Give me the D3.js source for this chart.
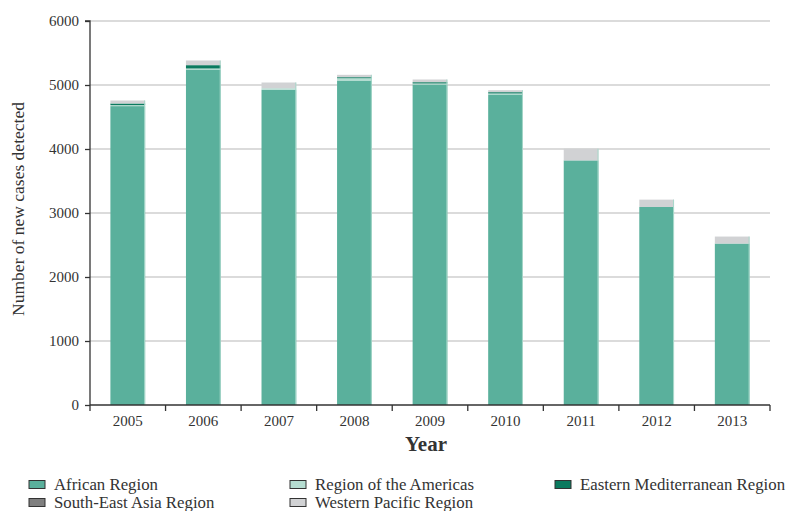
<!DOCTYPE html>
<html><head><meta charset="utf-8">
<script src="https://cdn.jsdelivr.net/npm/d3@7"></script>
<style>body{margin:0;background:#fff}svg{display:block}text{font-family:"Liberation Serif","DejaVu Serif",serif;fill:#333}</style>
</head><body><svg id="c" width="788" height="511"></svg>
<script>
const years = ["2005","2006","2007","2008","2009","2010","2011","2012","2013"];
const seriesNames = ["African Region","Region of the Americas","Eastern Mediterranean Region","South-East Asia Region","Western Pacific Region"];
const african   = [4670, 5242, 4925, 5070, 5008, 4852, 3822, 3094, 2523];
const americas  = [16, 16, 25, 36, 16, 16, 0, 0, 0];
const eastMed   = [25, 52, 0, 16, 20, 20, 0, 0, 0];
const seAsia    = [0, 0, 0, 0, 0, 0, 0, 0, 0];
const westPac   = [47, 73, 89, 37, 42, 31, 183, 115, 109];
const yTicks = [0,1000,2000,3000,4000,5000,6000];
const colors = ["#5ab09c","#b5ddd1","#0b7a5f","#7f7f7f","#d1d2d4"];

const seriesVals = [african, americas, eastMed, seAsia, westPac];
const rows = years.map((y,i)=>{const r={year:y}; seriesNames.forEach((n,k)=>r[n]=seriesVals[k][i]); return r;});
const stack = d3.stack().keys(seriesNames)(rows);

const svg = d3.select("#c");
const m = {l:90, r:770, t:21, b:405};
const x = d3.scaleBand().domain(years).range([m.l, m.r]).paddingInner(0.54).paddingOuter(0.27);
const y = d3.scaleLinear().domain([0,6000]).range([m.b, m.t]);

// grid
svg.append("g").selectAll("line").data(yTicks.filter(d=>d>0)).join("line")
  .attr("x1",m.l).attr("x2",m.r).attr("y1",d=>y(d)).attr("y2",d=>y(d))
  .attr("stroke","#cfcfcf").attr("stroke-width",1.5);

// bars
svg.append("g").selectAll("g").data(stack).join("g").attr("fill",(d,i)=>colors[i])
  .selectAll("rect").data(d=>d).join("rect")
  .attr("x",d=>x(d.data.year)).attr("width",x.bandwidth())
  .attr("y",d=>y(d[1])).attr("height",d=>Math.max(0,y(d[0])-y(d[1])));
// light right edge
svg.append("g").selectAll("line").data(rows).join("line")
  .attr("x1",d=>x(d.year)+x.bandwidth()-0.5).attr("x2",d=>x(d.year)+x.bandwidth()-0.5)
  .attr("y1",d=>y(d3.sum(seriesNames,n=>d[n]))).attr("y2",m.b)
  .attr("stroke","#a9d8cb").attr("stroke-width",1);

// y axis
const ya = svg.append("g").attr("transform",`translate(${m.l},0)`)
  .call(d3.axisLeft(y).tickValues(yTicks).tickSize(5).tickPadding(6).tickFormat(d3.format("d")));
ya.select(".domain").attr("stroke","#333").attr("stroke-width",1.3).attr("d",`M-5,${m.t}H0V${m.b}`);
ya.selectAll(".tick line").attr("stroke","#333").attr("stroke-width",1.3);
ya.selectAll(".tick text").attr("font-size",15).attr("fill","#333").style("font-family",'"Liberation Serif",serif');

// x axis
const xa = svg.append("g").attr("transform",`translate(0,${m.b})`)
  .call(d3.axisBottom(x).tickSize(0).tickPadding(10));
xa.select(".domain").attr("stroke","#333").attr("stroke-width",1.3).attr("d",`M${m.l},0H${m.r}`);
xa.selectAll(".tick text").attr("font-size",15).attr("fill","#333").style("font-family",'"Liberation Serif",serif');
const bounds = years.map(d=>x(d)-x.step()*x.paddingInner()/2).concat([m.r]);
bounds[0]=m.l;
xa.append("g").selectAll("line").data(bounds).join("line")
  .attr("x1",d=>d).attr("x2",d=>d).attr("y1",0).attr("y2",6).attr("stroke","#333").attr("stroke-width",1.3);

// axis titles
svg.append("text").attr("x",(m.l+m.r)/2-4).attr("y",451).attr("text-anchor","middle")
  .attr("font-size",21).attr("font-weight","bold").attr("fill","#222").text("Year");
svg.append("text").attr("transform",`translate(24,${(m.t+m.b)/2-4}) rotate(-90)`).attr("text-anchor","middle")
  .attr("font-size",17.5).attr("fill","#333").text("Number of new cases detected");

// legend
const legPos = [[29,480],[290,480],[555,480],[29,498],[290,498]];
const lg = svg.append("g").selectAll("g").data(seriesNames).join("g")
  .attr("transform",(d,i)=>`translate(${legPos[i][0]},${legPos[i][1]})`);
lg.append("rect").attr("width",16).attr("height",8).attr("y",0.5)
  .attr("fill",(d,i)=>colors[i]).attr("stroke","#333").attr("stroke-width",1);
lg.append("text").attr("x",25).attr("y",9.5).attr("font-size",16.8).attr("fill","#333").text(d=>d);
</script></body></html>
